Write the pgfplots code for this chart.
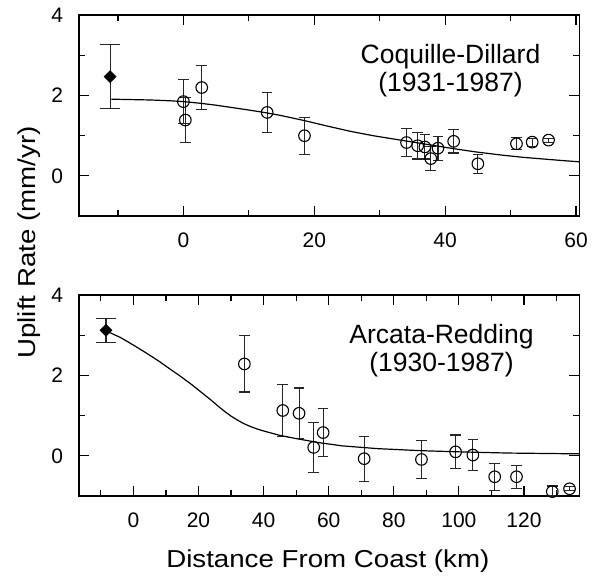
\documentclass[border=0pt]{standalone}
\usepackage{pgfplots}
\pgfplotsset{compat=1.18}
\usepackage{fontspec}
\usepackage{graphicx}
\setmainfont{Liberation Sans}

\pgfplotsset{
  panel/.style={
    scale only axis, width=500.6pt, height=200.7pt, anchor=south west,
    axis line style={line width=1.6pt},
    every tick/.style={line width=1.2pt, black},
    major tick length=10pt, minor tick length=6pt,
    tick align=inside,
    xtick pos=both, ytick pos=both,
    ymin=-1, ymax=4, ytick={0,2,4}, minor ytick={1,3},
    /pgf/number format/assume math mode=true,
    tick label style={font=\fontsize{21}{21}\selectfont},
    xticklabel style={yshift=-13pt},
    yticklabel style={xshift=-12pt},
    clip=false,
  },
  circ/.style={only marks, mark=o, mark size=5.8pt, black,
    mark options={fill=white, line width=1.1pt, draw=black},
    error bars/.cd, y dir=both, y explicit,
    error bar style={line width=1.1pt, black!85},
    error mark options={rotate=90, mark size=5.3pt, line width=1.1pt, black!85}},
  diam/.style={only marks, mark=square*, mark size=4.3pt, black,
    mark options={rotate=45, fill=black},
    error bars/.cd, y dir=both, y explicit,
    error bar style={line width=1.1pt, black!85},
    error mark options={rotate=90, mark size=10pt, line width=1.1pt, black!85}},
  fit/.style={no marks, black, line width=1.2pt},
}

\begin{document}
\begin{tikzpicture}
\useasboundingbox (0,0) rectangle (593pt,575pt);

% top panel
\begin{axis}[panel, at={(78.7pt,359pt)},
  xmin=-16, xmax=60.5, xtick={0,20,40,60}, minor xtick={-10,10,30,50}]
\addplot+[diam] coordinates {(-11.2,2.47) +- (0,0.8)};
\addplot+[circ] coordinates {
 (0,1.85) +- (0,0.55)
 (0.3,1.39) +- (0,0.56)
 (2.8,2.2) +- (0,0.55)
 (12.8,1.58) +- (0,0.5)
 (18.5,1.0) +- (0,0.46)
 (34.1,0.83) +- (0,0.35)
 (35.8,0.75) +- (0,0.33)
 (36.9,0.72) +- (0,0.3)
 (37.8,0.43) +- (0,0.3)
 (38.9,0.69) +- (0,0.3)
 (41.3,0.86) +- (0,0.29)
 (45.0,0.30) +- (0,0.24)
 (50.9,0.80) +- (0,0.15)
 (53.3,0.84) +- (0,0.1)
 (55.8,0.89) +- (0,0.05)
};
\addplot[fit] coordinates {
 (-11,1.91) (-8,1.90) (-5,1.89) (-2,1.87) (0,1.85) (2.5,1.81) (5,1.76)
 (7.5,1.70) (10,1.64) (12.7,1.57) (15,1.50) (18.4,1.38) (22,1.24)
 (25.5,1.11) (29,1.0) (33.2,0.89) (37,0.79) (40.8,0.69) (44.5,0.6)
 (48.5,0.52) (52,0.46) (55,0.42) (58,0.38) (60.5,0.35)
};
\end{axis}

% bottom panel
\begin{axis}[panel, at={(78.7pt,79pt)},
  xmin=-16.8, xmax=137, xtick={0,20,...,120}, minor xtick={-10,10,...,130}]
\addplot+[diam] coordinates {(-8.4,3.13) +- (0,0.3)};
\addplot+[circ] coordinates {
 (34.1,2.29) +- (0,0.7)
 (45.9,1.13) +- (0,0.65)
 (50.9,1.06) +- (0,0.63)
 (55.4,0.21) +- (0,0.62)
 (58.3,0.58) +- (0,0.6)
 (70.9,-0.07) +- (0,0.56)
 (88.5,-0.09) +- (0,0.47)
 (99.0,0.10) +- (0,0.42)
 (104.3,0.02) +- (0,0.38)
 (111.0,-0.52) +- (0,0.34)
 (117.7,-0.52) +- (0,0.29)
 (128.7,-0.89) += (0,0.14) -= (0,0.11)
 (134.0,-0.82) +- (0,0.05)
};
\addplot[fit] coordinates {
 (-7.5,3.08) (-4,2.95) (0,2.76) (4,2.56) (8,2.35) (12,2.12) (14,2.01)
 (16,1.89) (18,1.77) (20,1.64) (22,1.51) (24,1.38) (26,1.24) (28,1.11)
 (30,0.99) (32,0.89) (34,0.80) (36,0.73) (38,0.67) (40,0.62) (45,0.51)
 (50,0.43) (57,0.33) (64,0.25) (75,0.18) (88,0.13) (100,0.10) (115,0.07)
 (137,0.05)
};
\end{axis}

% titles
\node[anchor=base, font=\fontsize{26.5}{26.5}\selectfont] at (450.5pt,511.7pt) {Coquille-Dillard};
\node[anchor=base, font=\fontsize{26.5}{26.5}\selectfont] at (450.5pt,483.3pt) {(1931-1987)};
\node[anchor=base, font=\fontsize{26.5}{26.5}\selectfont] at (441.5pt,231.7pt) {Arcata-Redding};
\node[anchor=base, font=\fontsize{26.5}{26.5}\selectfont] at (441.5pt,203.3pt) {(1930-1987)};

% axis labels
\node[anchor=base, font=\fontsize{24.5}{24.5}\selectfont] at (327.8pt,7.3pt) {\scalebox{1.13}[1]{Distance From Coast (km)}};
\node[anchor=base, rotate=90, font=\fontsize{24.5}{24.5}\selectfont] at (35pt,332.5pt) {\scalebox{1.13}[1]{Uplift Rate (mm/yr)}};
\end{tikzpicture}
\end{document}
